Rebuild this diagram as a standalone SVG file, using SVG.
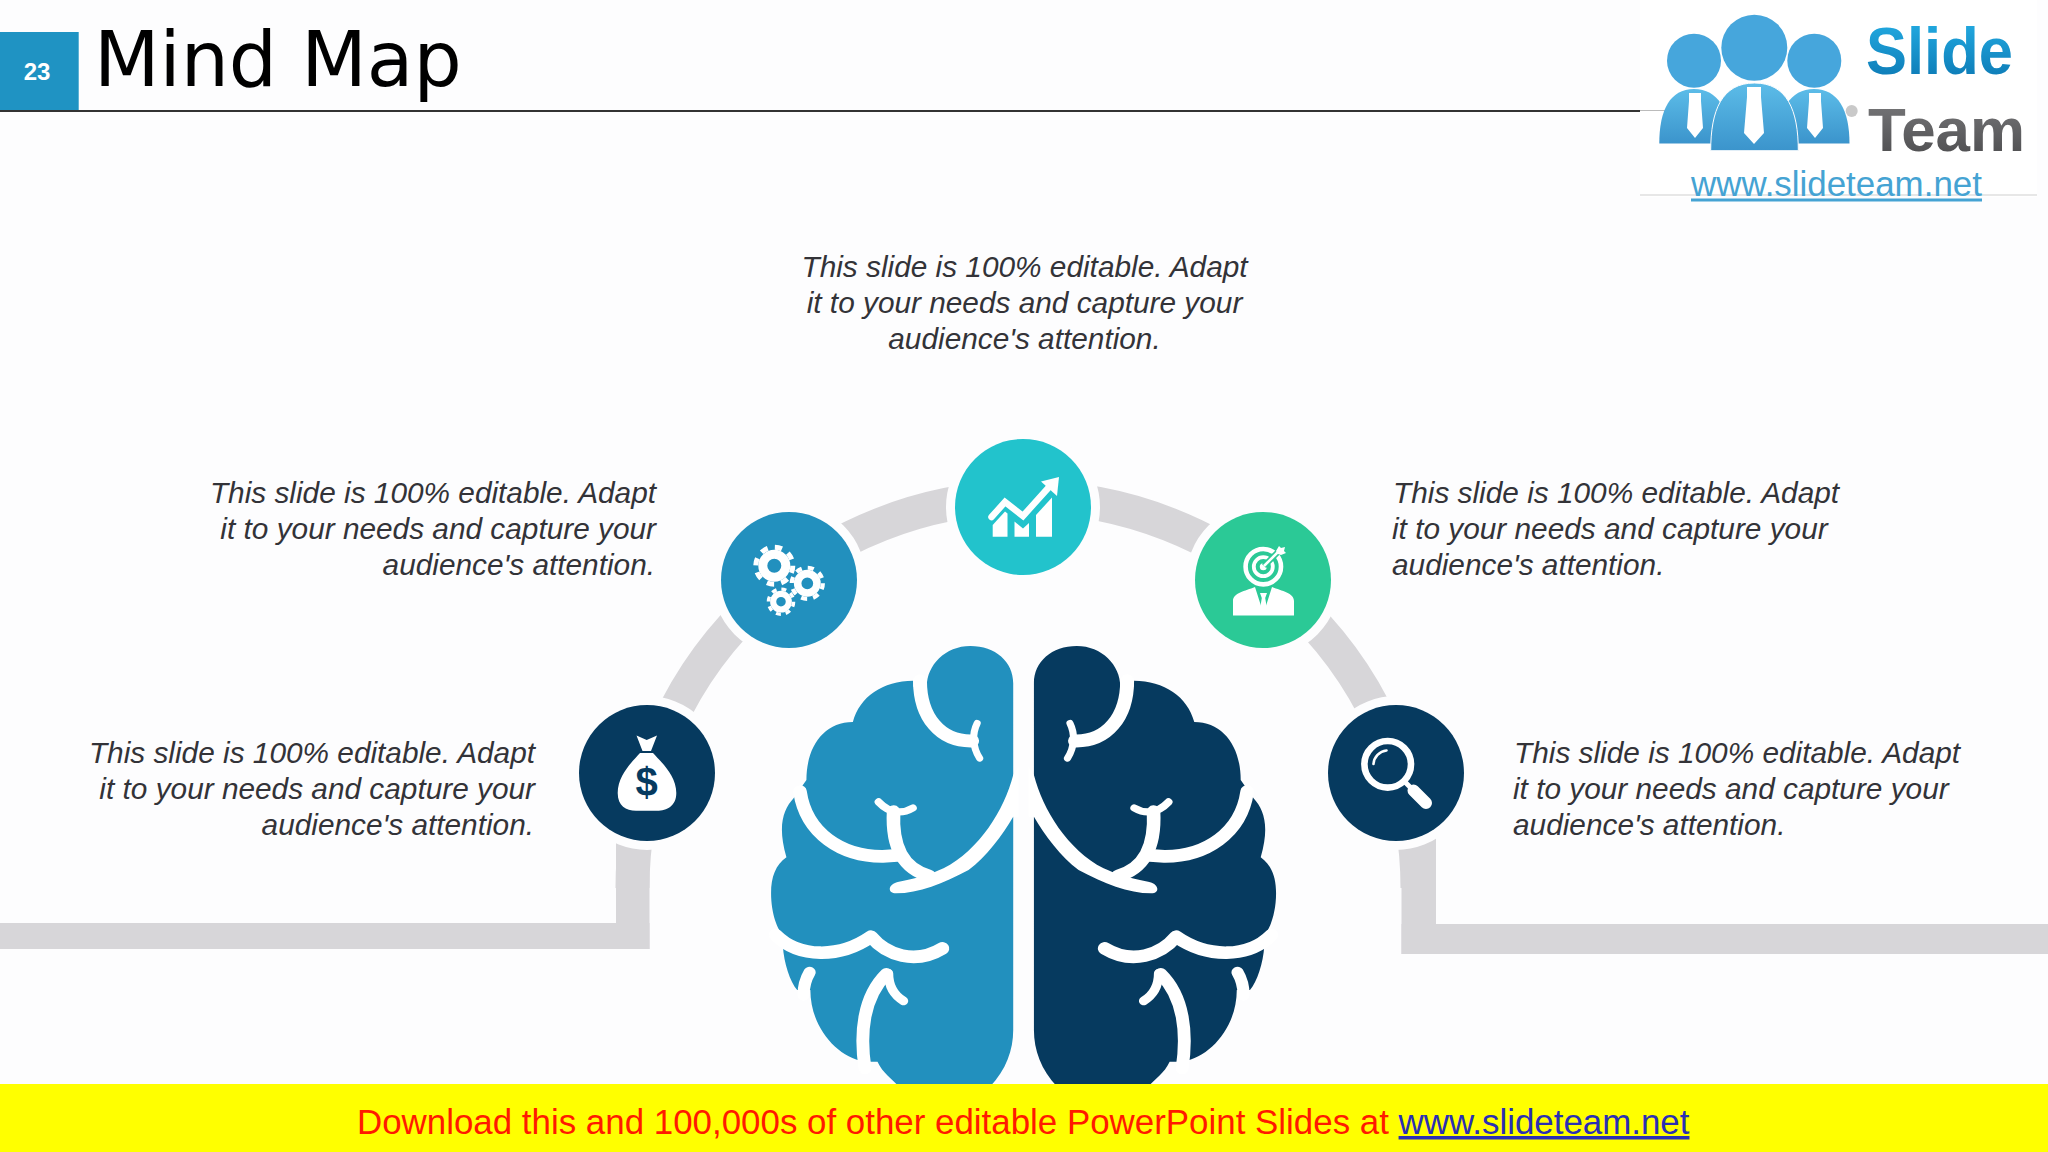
<svg xmlns="http://www.w3.org/2000/svg" xmlns:xlink="http://www.w3.org/1999/xlink" width="2048" height="1152" viewBox="0 0 2048 1152">
<style>
.body{font-family:"Liberation Sans",Arial,sans-serif;font-style:italic;font-size:29.8px;fill:#333338}
.end{text-anchor:end}.mid{text-anchor:middle}
.band{fill:#d7d6d9}
.halo{stroke:#fdfdfe;stroke-width:18;paint-order:stroke}
.ico{fill:#fff}
.s{fill:none;stroke:#fff;stroke-linecap:round;stroke-linejoin:round}
.b{font-family:"Liberation Sans",Arial,sans-serif;font-weight:700}
</style>
<defs>
<linearGradient id="gSlide" x1="0" y1="0" x2="0" y2="1"><stop offset="0" stop-color="#25b0e6"/><stop offset="1" stop-color="#0a74b0"/></linearGradient>
<linearGradient id="gTeam" x1="0" y1="0" x2="0" y2="1"><stop offset="0" stop-color="#7b7b7d"/><stop offset="1" stop-color="#4a4a4c"/></linearGradient>
<linearGradient id="gP" x1="0" y1="0" x2="0" y2="1"><stop offset="0" stop-color="#5cbce8"/><stop offset="1" stop-color="#3b94cc"/></linearGradient>
<g id="half">
<path d="M765 190C765 125 715 78 645 78C575 78 523 135 523 200L485 200L485 182C400 182 335 230 316 306C235 306 186 380 186 480L150 535C120 570 105 620 130 712C100 735 87 770 87 820C87 880 105 930 120 945L120 978C123 1030 140 1085 160 1110L197 1110C197 1220 270 1310 347 1325L385 1325C400 1360 425 1375 445 1400L700 1400C745 1350 765 1290 765 1230Z"/>
<path class="s" stroke-width="39" stroke-linecap="butt" d="M504 182C504 290 560 365 650 363"/>
<path class="s" stroke-width="20" d="M664 310C650 340 650 380 671 415"/>
<path class="s" stroke-width="38" d="M168 515C185 640 285 710 400 709L440 706"/>
<path class="s" stroke-width="38" d="M430 575C425 680 455 745 530 768"/>
<path class="s" stroke-width="22" d="M388 546C420 582 455 582 484 564"/>
<path fill="#fff" d="M780 440L765 465C740 570 670 690 570 745C540 760 500 775 445 785C415 790 410 820 437 820C500 820 570 790 640 750C690 710 735 645 765 590L780 590Z"/>
<path class="s" stroke-width="38" d="M100 945C165 1015 280 1015 367 950C410 1005 490 1035 567 985"/>
<path class="s" stroke-width="34" d="M178 1125C178 1095 185 1075 195 1057"/>
<path class="s" stroke-width="36" d="M350 1345C335 1240 345 1130 410 1062"/>
<path class="s" stroke-width="26" d="M416 1060C416 1100 430 1125 458 1143"/>
</g>
<g id="gear">
<circle cx="0" cy="0" r="11.5" fill="none" stroke="#fff" stroke-width="9"/>
<circle cx="0" cy="0" r="18.5" fill="none" stroke="#fff" stroke-width="5" stroke-dasharray="7.3 7.23"/>
</g>
</defs>
<rect id="background" width="2048" height="1152" fill="#fdfdfe"/>
<g id="connectors">
<path d="M632.5 888A392.5 391 0 0 1 1417.5 888" fill="none" stroke="#d7d6d9" stroke-width="34"/>
<rect class="band" x="616" y="830" width="33.5" height="119"/>
<rect class="band" x="0" y="923" width="649.5" height="26"/>
<rect class="band" x="1401.5" y="830" width="34.5" height="124"/>
<rect class="band" x="1401.5" y="924" width="646.5" height="30"/>
</g>
<g id="brain">
<g fill="#2290be" transform="translate(740 620) scale(.35714 .33333)"><use xlink:href="#half" href="#half"/></g>
<g fill="#063a5f" transform="translate(740 620) scale(.35714 .33333) translate(1588 0) scale(-1 1)"><use xlink:href="#half" href="#half"/></g>
</g>
<g id="node-money">
<circle class="halo" cx="647" cy="773" r="68" fill="#063a5f"/>
<polygon class="ico" points="636.5,735.5 646.7,740 657,735.5 651,751 642.5,751"/>
<path class="ico" d="M640 753C633 761 617.7 775 617.7 793C617.7 806 626 810.7 636 810.7H657C667 810.7 676.3 806 676.3 793C676.3 775 660 761 653 753Z"/>
<text class="b mid" x="646.7" y="796" font-size="40" fill="#063a5f">$</text>
</g>
<g id="node-gears">
<circle class="halo" cx="789" cy="580" r="68" fill="#2290be"/>
<use xlink:href="#gear" href="#gear" transform="translate(774.3 565.7)"/>
<use xlink:href="#gear" href="#gear" transform="translate(807.3 583.3) scale(.84)"/>
<use xlink:href="#gear" href="#gear" transform="translate(781 601.7) scale(.68)"/>
</g>
<g id="node-chart">
<circle class="halo" cx="1023" cy="507" r="68" fill="#22c3cc"/>
<path d="M991.5 517L1005 502L1023 516L1050 486" fill="none" stroke="#fff" stroke-width="6.5" stroke-linecap="round"/>
<polygon class="ico" points="1041,481.5 1059,477 1057,496"/>
<polygon class="ico" points="992.7,536.7 992.7,525 1005,511.5 1007.5,513.5 1007.5,536.7"/>
<polygon class="ico" points="1014.5,536.7 1014.5,521.5 1023,528.5 1029,523 1029,536.7"/>
<polygon class="ico" points="1036,536.7 1036,515 1052,497.5 1052,536.7"/>
</g>
<g id="node-target">
<circle class="halo" cx="1263" cy="580" r="68" fill="#2bc996"/>
<circle cx="1263.3" cy="566.7" r="17.7" fill="none" stroke="#fff" stroke-width="4.6"/>
<circle cx="1263.3" cy="566.7" r="9.5" fill="none" stroke="#fff" stroke-width="3.8"/>
<circle class="ico" cx="1263.3" cy="566.7" r="3.5"/>
<path d="M1264 566L1284 546" fill="none" stroke="#2bc996" stroke-width="6"/>
<path d="M1264 566L1279 551" fill="none" stroke="#fff" stroke-width="2.6"/>
<polygon class="ico" points="1276,551 1279,546 1281,548 1285,547 1284,551 1286,553 1281,555 1278,554"/>
<path class="ico" d="M1233 615.5V601C1233 593 1245 591 1255 587L1262 609L1263.3 612L1265 609L1272 587C1282 591 1294 593 1294 601V615.5Z"/>
<polygon class="ico" points="1260,593 1267,593 1265.2,598 1267,609 1263.5,613 1260,609 1261.8,598"/>
</g>
<g id="node-search">
<circle class="halo" cx="1396" cy="773" r="68" fill="#063a5f"/>
<circle cx="1387.7" cy="764.3" r="23.3" fill="none" stroke="#fff" stroke-width="6.6"/>
<path d="M1373.5 764A14.5 14.5 0 0 1 1386.5 750.5" fill="none" stroke="#fff" stroke-width="2.6" stroke-linecap="round"/>
<path d="M1404 781L1413 790" stroke="#fff" stroke-width="5"/>
<path d="M1413.5 790.5L1426 803" stroke="#fff" stroke-width="12" stroke-linecap="round"/>
</g>
<g id="text-top"><text class="body mid" x="1024.5" y="277">This slide is 100% editable. Adapt</text><text class="body mid" x="1024.5" y="313">it to your needs and capture your</text><text class="body mid" x="1024.5" y="349">audience's attention.</text></g>
<g id="text-upper-left"><text class="body end" x="656" y="503">This slide is 100% editable. Adapt</text><text class="body end" x="656" y="539">it to your needs and capture your</text><text class="body end" x="655" y="575">audience's attention.</text></g>
<g id="text-lower-left"><text class="body end" x="535" y="763">This slide is 100% editable. Adapt</text><text class="body end" x="535" y="799">it to your needs and capture your</text><text class="body end" x="534" y="835">audience's attention.</text></g>
<g id="text-upper-right"><text class="body" x="1393" y="503">This slide is 100% editable. Adapt</text><text class="body" x="1392" y="539">it to your needs and capture your</text><text class="body" x="1392" y="575">audience's attention.</text></g>
<g id="text-lower-right"><text class="body" x="1514" y="763">This slide is 100% editable. Adapt</text><text class="body" x="1513" y="799">it to your needs and capture your</text><text class="body" x="1513" y="835">audience's attention.</text></g>
<g id="header">
<rect x="0" y="110" width="1640" height="2" fill="#333"/>
<rect x="0" y="32" width="78.7" height="78" fill="#1f93c3"/>
<text class="b mid" x="37" y="80" font-size="24" fill="#fff">23</text>
<text x="94" y="86" font-family="'DejaVu Sans',Verdana,sans-serif" font-size="76" fill="#000">Mind Map</text>
</g>
<g id="logo">
<rect x="1640" y="0" width="397" height="197" fill="#fff"/>
<rect x="1640" y="110" width="30" height="1" fill="#bbb"/>
<rect x="1640" y="194.5" width="397" height="1" fill="#cfcfcf"/>
<circle cx="1694" cy="60.7" r="27" fill="#46a6dc"/>
<circle cx="1814.3" cy="60.7" r="27" fill="#46a6dc"/>
<circle cx="1754.3" cy="47.7" r="33" fill="#46a6dc"/>
<circle cx="1851.7" cy="111" r="6" fill="#c9c9c9"/>
<path fill="url(#gP)" d="M1659.3 143.5C1659.3 110 1670 89 1694 89C1718 89 1730 110 1730 143.5Z"/>
<path fill="url(#gP)" d="M1778 143.5C1778 110 1790 89 1814 89C1838 89 1849.5 110 1849.5 143.5Z"/>
<path fill="url(#gP)" stroke="#fdfdfe" stroke-width="1" d="M1710.7 150.7C1710.7 110 1722 83 1754.5 83C1787 83 1798.3 110 1798.3 150.7Z"/>
<polygon fill="#fff" points="1689,93 1701,93 1701,101 1703,128 1695,138 1687,128 1689,101"/>
<polygon fill="#fff" points="1809,93 1821,93 1821,101 1823,128 1815,138 1807,128 1809,101"/>
<polygon fill="#fff" points="1747,87 1761,87 1761,97 1764,133 1754,144 1744,133 1747,97"/>
<text class="b" x="1866" y="74" font-size="66" fill="url(#gSlide)" textLength="147" lengthAdjust="spacingAndGlyphs">Slide</text>
<text class="b" x="1868" y="150.7" font-size="62" fill="url(#gTeam)" textLength="157" lengthAdjust="spacingAndGlyphs">Team</text>
<text x="1691" y="196" font-family="'Liberation Sans',Arial,sans-serif" font-size="34.9" fill="#45a3d3">www.slideteam.net</text>
<rect x="1691" y="198.5" width="291" height="3" fill="#45a3d3"/>
</g>
<g id="footer">
<rect x="0" y="1084" width="2048" height="68" fill="#ffff00"/>
<text x="357" y="1134" font-family="'Liberation Sans',Arial,sans-serif" font-size="34.9" fill="#ff1a00">Download this and 100,000s of other editable PowerPoint Slides at <tspan fill="#2a2fb4" text-decoration="underline">www.slideteam.net</tspan></text>
</g>
</svg>
